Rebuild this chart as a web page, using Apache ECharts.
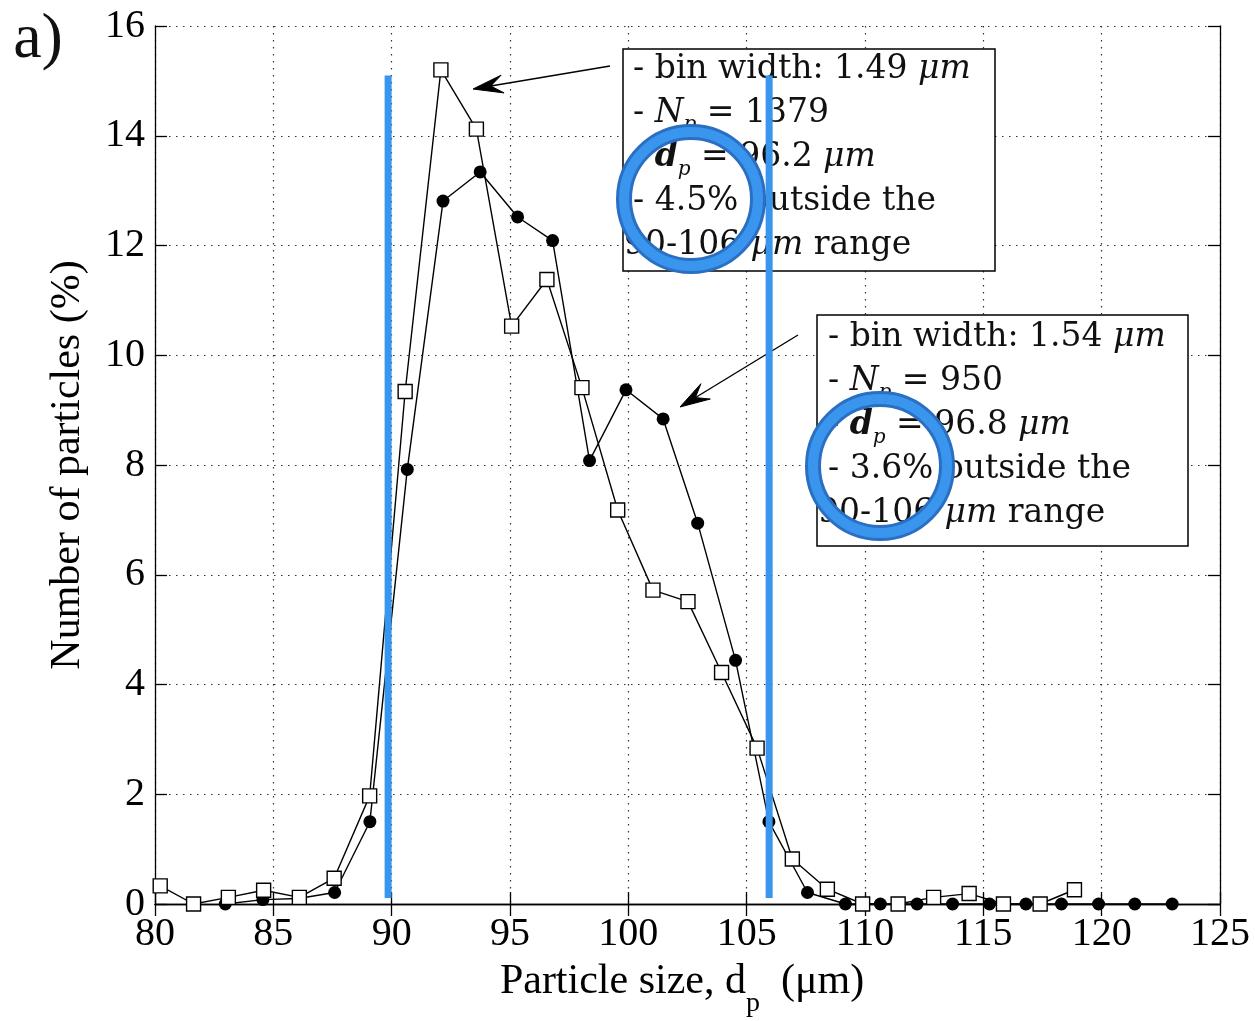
<!DOCTYPE html>
<html>
<head>
<meta charset="utf-8">
<script src="https://cdn.jsdelivr.net/npm/echarts@6/dist/echarts.min.js"></script>
<style>
html,body{margin:0;padding:0;background:#fff;}
#chart{width:1255px;height:1021px;}
</style>
</head>
<body>
<div id="chart"></div>
<script>
// Open squares: bin width 1.49 um, Np = 1379
var squareX = [80.22, 81.63, 83.10, 84.59, 86.10, 87.57, 89.07, 90.57, 92.08, 93.58, 95.07, 96.56, 98.04, 99.55, 101.04, 102.52, 103.94, 105.44, 106.93, 108.41, 109.90, 111.40, 112.90, 114.40, 115.85, 117.40, 118.85];
var squareY = [0.33, 0.00, 0.12, 0.25, 0.12, 0.47, 1.97, 9.34, 15.20, 14.12, 10.53, 11.38, 9.41, 7.18, 5.72, 5.51, 4.22, 2.84, 0.82, 0.27, 0.00, 0.00, 0.12, 0.19, 0.00, 0.00, 0.26];
// Filled circles: bin width 1.54 um, Np = 950
var circleX = [82.97, 84.56, 86.06, 87.59, 89.08, 90.66, 92.17, 93.74, 95.32, 96.80, 98.36, 99.90, 101.47, 102.93, 104.53, 105.94, 107.57, 109.17, 110.65, 112.20, 113.70, 115.26, 116.80, 118.30, 119.87, 121.40, 122.98];
var circleY = [0.00, 0.08, 0.10, 0.21, 1.50, 7.92, 12.81, 13.34, 12.52, 12.09, 8.08, 9.37, 8.84, 6.94, 4.44, 1.50, 0.21, 0.00, 0.00, 0.00, 0.00, 0.00, 0.00, 0.00, 0.00, 0.00, 0.00];
// Blue range markers
var rangeLow = 89.85, rangeHigh = 105.95, rangeYBottom = 0.11, rangeYTop = 15.1;
var xTicks = {min: 80, max: 125, interval: 5};
var yTicks = {min: 0, max: 16, interval: 2};

var box1Lines = [
  '{t|- bin width: 1.49 }{i|μm}',
  '{t|- }{i|N}{s|p}{t| = 1379}',
  '{t|- }{b|d}{s|p}{t| = 96.2 }{i|μm}',
  '{t|- 4.5% outside the}',
  '{t|90-106 }{i|μm}{t| range}'
];
var box2Lines = [
  '{t|- bin width: 1.54 }{i|μm}',
  '{t|- }{i|N}{s|p}{t| = 950}',
  '{t|- }{b|d}{s|p}{t| = 96.8 }{i|μm}',
  '{t|- 3.6% outside the}',
  '{t|90-106 }{i|μm}{t| range}'
];

function zip(a, b) { return a.map(function (v, i) { return [v, b[i]]; }); }

var SERIF = 'Liberation Serif';
var ANN = 'DejaVu Serif';
var annRich = {
  t: {fontSize: 33, fontFamily: ANN, fill: '#111'},
  i: {fontSize: 33, fontFamily: ANN, fontStyle: 'italic', fill: '#111'},
  b: {fontSize: 33, fontFamily: ANN, fontStyle: 'italic', fontWeight: 'bold', fill: '#111'},
  s: {fontSize: 20, fontFamily: ANN, fontStyle: 'italic', fill: '#111', padding: [24, 0, 0, 0]}
};

var graphics = [];
function addBox(x, y, w, h, lines, tx, ty0, dy, lastX) {
  graphics.push({type: 'rect', z: 1, shape: {x: x, y: y, width: w, height: h},
    style: {fill: '#fff', stroke: '#000', lineWidth: 1.5}});
  lines.forEach(function (l, k) {
    graphics.push({type: 'text', z: 3, x: k === 4 ? lastX : tx, y: ty0 + dy * k,
      style: {text: l, rich: annRich, textVerticalAlign: 'middle', textAlign: 'left', font: '33px ' + ANN}});
  });
}
addBox(623, 49, 372, 222, box1Lines, 633, 69, 44.2, 624);
addBox(817, 315, 371, 231, box2Lines, 828, 337, 44.2, 818);

function addArrow(x0, y0, x1, y1) {
  var dx = x1 - x0, dy = y1 - y0, L = Math.sqrt(dx * dx + dy * dy);
  var ux = dx / L, uy = dy / L, nx = -uy, ny = ux;
  var hl = 30, hw = 9;
  graphics.push({type: 'line', z: 3, shape: {x1: x0, y1: y0, x2: x1 - ux * 12, y2: y1 - uy * 12},
    style: {stroke: '#000', lineWidth: 1.4}});
  graphics.push({type: 'polygon', z: 3, shape: {points: [
    [x1, y1],
    [x1 - ux * hl + nx * hw, y1 - uy * hl + ny * hw],
    [x1 - ux * hl * 0.6, y1 - uy * hl * 0.6],
    [x1 - ux * hl - nx * hw, y1 - uy * hl - ny * hw]
  ]}, style: {fill: '#000', stroke: '#000', lineWidth: 1}});
}
addArrow(610, 66, 473, 89);
addArrow(798, 335, 680, 407);

function addRing(cx, cy) {
  graphics.push({type: 'circle', z: 10, shape: {cx: cx, cy: cy, r: 67},
    style: {fill: 'none', stroke: '#2a6fc2', lineWidth: 16}});
  graphics.push({type: 'circle', z: 10, shape: {cx: cx, cy: cy, r: 67},
    style: {fill: 'none', stroke: '#3a95ee', lineWidth: 10}});
}
addRing(691, 199);
addRing(880, 466);

graphics.push({type: 'text', z: 3, x: 38, y: 40,
  style: {text: 'a)', font: '64px ' + SERIF, fill: '#111', textAlign: 'center', textVerticalAlign: 'middle'}});
graphics.push({type: 'text', z: 3, x: 682, y: 982,
  style: {text: '{a|Particle size, d}{s|p}{a|  (μm)}', textAlign: 'center', textVerticalAlign: 'middle',
    font: '42px ' + SERIF,
    rich: {a: {fontSize: 42, fontFamily: SERIF, fill: '#000'},
           s: {fontSize: 28, fontFamily: SERIF, fill: '#000', padding: [44, 0, 0, 0]}}}});

var chart = echarts.init(document.getElementById('chart'), null, {renderer: 'canvas'});
var axisLine = {show: true, lineStyle: {color: '#000', width: 1.3}};
var tick = {show: true, inside: true, length: 12, lineStyle: {color: '#000', width: 1.3}};
var split = {show: true, lineStyle: {color: '#333', width: 1.2, type: [1.5, 5.5]}};
chart.setOption({
  animation: false,
  backgroundColor: '#fff',
  grid: {left: 155, right: 35, top: 26, bottom: 117, containLabel: false},
  xAxis: [{
    type: 'value', min: xTicks.min, max: xTicks.max, interval: xTicks.interval, position: 'bottom',
    axisLine: axisLine, axisTick: tick, splitLine: split,
    axisLabel: {fontFamily: SERIF, fontSize: 40, color: '#000', margin: 10}
  }, {
    type: 'value', min: xTicks.min, max: xTicks.max, interval: xTicks.interval, position: 'top',
    axisLine: axisLine, axisTick: tick, splitLine: {show: false}, axisLabel: {show: false}
  }],
  yAxis: [{
    type: 'value', min: yTicks.min, max: yTicks.max, interval: yTicks.interval, position: 'left',
    axisLine: axisLine, axisTick: tick, splitLine: split,
    axisLabel: {fontFamily: SERIF, fontSize: 40, color: '#000', margin: 10},
    name: 'Number of particles (%)', nameLocation: 'middle', nameGap: 66,
    nameTextStyle: {fontFamily: SERIF, fontSize: 42, color: '#000'}
  }, {
    type: 'value', min: yTicks.min, max: yTicks.max, interval: yTicks.interval, position: 'right',
    axisLine: axisLine, axisTick: tick, splitLine: {show: false}, axisLabel: {show: false}
  }],
  series: [{
    type: 'line', z: 2, data: zip(circleX, circleY), symbol: 'circle', symbolSize: 13,
    lineStyle: {color: '#000', width: 1.4}, itemStyle: {color: '#000'}
  }, {
    type: 'line', z: 3, data: zip(squareX, squareY), symbol: 'rect', symbolSize: 14,
    lineStyle: {color: '#000', width: 1.4}, itemStyle: {color: '#fff', borderColor: '#000', borderWidth: 1.4}
  }, {
    type: 'line', z: 4, data: [[rangeLow, rangeYBottom], [rangeLow, rangeYTop]], symbol: 'none',
    lineStyle: {color: '#3a95ee', width: 7}
  }, {
    type: 'line', z: 4, data: [[rangeHigh, rangeYBottom], [rangeHigh, rangeYTop]], symbol: 'none',
    lineStyle: {color: '#3a95ee', width: 7}
  }],
  graphic: graphics
});
</script>
</body>
</html>
